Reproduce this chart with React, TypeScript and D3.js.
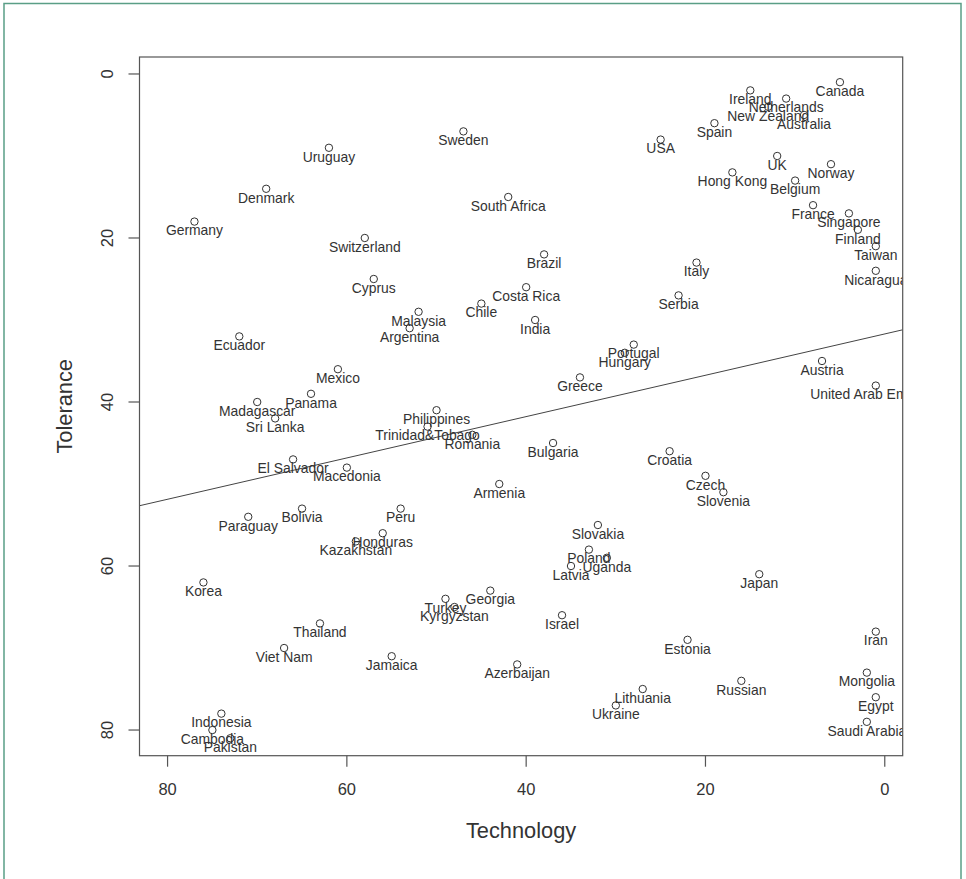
import React, { useEffect, useRef } from 'react';
import * as d3 from 'd3';

const countries = [
  'Canada', 'Ireland', 'Netherlands', 'New Zealand', 'Australia', 'Spain', 'Sweden', 'USA', 'Uruguay', 'UK',
  'Norway', 'Hong Kong', 'Belgium', 'Denmark', 'South Africa', 'France', 'Singapore', 'Germany', 'Finland', 'Switzerland',
  'Taiwan', 'Brazil', 'Italy', 'Nicaragua', 'Cyprus', 'Costa Rica', 'Serbia', 'Chile', 'Malaysia', 'India',
  'Argentina', 'Ecuador', 'Portugal', 'Hungary', 'Austria', 'Mexico', 'Greece', 'United Arab Emirates', 'Panama', 'Madagascar',
  'Philippines', 'Sri Lanka', 'Trinidad&Tobago', 'Romania', 'Bulgaria', 'Croatia', 'El Salvador', 'Macedonia', 'Czech', 'Armenia',
  'Slovenia', 'Bolivia', 'Peru', 'Paraguay', 'Slovakia', 'Honduras', 'Kazakhstan', 'Poland', 'Uganda', 'Latvia',
  'Japan', 'Korea', 'Georgia', 'Turkey', 'Kyrgyzstan', 'Israel', 'Thailand', 'Iran', 'Estonia', 'Viet Nam',
  'Jamaica', 'Azerbaijan', 'Mongolia', 'Russian', 'Lithuania', 'Egypt', 'Ukraine', 'Indonesia', 'Saudi Arabia', 'Cambodia',
  'Pakistan',
];

const technology = [
  5, 15, 11, 13, 9, 19, 47, 25, 62, 12,
  6, 17, 10, 69, 42, 8, 4, 77, 3, 58,
  1, 38, 21, 1, 57, 40, 23, 45, 52, 39,
  53, 72, 28, 29, 7, 61, 34, 1, 64, 70,
  50, 68, 51, 46, 37, 24, 66, 60, 20, 43,
  18, 65, 54, 71, 32, 56, 59, 33, 31, 35,
  14, 76, 44, 49, 48, 36, 63, 1, 22, 67,
  55, 41, 2, 16, 27, 1, 30, 74, 2, 75,
  73,
];

const tolerance = [
  1, 2, 3, 4, 5, 6, 7, 8, 9, 10,
  11, 12, 13, 14, 15, 16, 17, 18, 19, 20,
  21, 22, 23, 24, 25, 26, 27, 28, 29, 30,
  31, 32, 33, 34, 35, 36, 37, 38, 39, 40,
  41, 42, 43, 44, 45, 46, 47, 48, 49, 50,
  51, 53, 53, 54, 55, 56, 57, 58, 59, 60,
  61, 62, 63, 64, 65, 66, 67, 68, 69, 70,
  71, 72, 73, 74, 75, 76, 77, 78, 79, 80,
  81,
];

const xTicks = [80, 60, 40, 20, 0];
const yTicks = [0, 20, 40, 60, 80];

// fitted line: tolerance = intercept + slope * technology
const lineIntercept = 31.7;
const lineSlope = 0.252;

const W = 966;
const H = 879;

const App: React.FC = () => {
  const svgRef = useRef<SVGSVGElement | null>(null);

  useEffect(() => {
    if (!svgRef.current) return;
    const svg = d3.select(svgRef.current);
    svg.selectAll('*').remove();

    const left = 139.5, right = 902.7, top = 57, bottom = 755.7;
    const x = d3.scaleLinear().domain([83.13, -2.0]).range([left, right]);
    const y = d3.scaleLinear().domain([-2.07, 83.13]).range([top, bottom]);

    const font = '"Liberation Sans", Arial, sans-serif';

    svg.append('rect')
      .attr('width', W).attr('height', H).attr('fill', '#fff');

    // outer frame
    svg.append('rect')
      .attr('x', 4).attr('y', 3.5)
      .attr('width', 957).attr('height', 900)
      .attr('fill', 'none')
      .attr('stroke', '#5a9e86')
      .attr('stroke-width', 1.5);

    svg.append('clipPath').attr('id', 'plot-clip')
      .append('rect')
      .attr('x', left).attr('y', top)
      .attr('width', right - left).attr('height', bottom - top);

    const plot = svg.append('g').attr('clip-path', 'url(#plot-clip)');

    // regression line
    const [d0, d1] = x.domain();
    plot.append('line')
      .attr('x1', x(d0)).attr('y1', y(lineIntercept + lineSlope * d0))
      .attr('x2', x(d1)).attr('y2', y(lineIntercept + lineSlope * d1))
      .attr('stroke', '#444')
      .attr('stroke-width', 1);

    const data = countries.map((name, i) => ({ name, tx: technology[i], tl: tolerance[i] }));

    plot.selectAll('circle.pt')
      .data(data)
      .join('circle')
      .attr('class', 'pt')
      .attr('cx', d => x(d.tx))
      .attr('cy', d => y(d.tl))
      .attr('r', 3.7)
      .attr('fill', 'none')
      .attr('stroke', '#333')
      .attr('stroke-width', 1);

    plot.selectAll('text.lbl')
      .data(data)
      .join('text')
      .attr('class', 'lbl')
      .attr('x', d => x(d.tx))
      .attr('y', d => y(d.tl + 1))
      .attr('dy', '0.4em')
      .attr('text-anchor', 'middle')
      .style('font-family', font)
      .style('font-size', '13.9px')
      .style('fill', '#333')
      .text(d => d.name);

    // plot box
    svg.append('rect')
      .attr('x', left).attr('y', top)
      .attr('width', right - left).attr('height', bottom - top)
      .attr('fill', 'none')
      .attr('stroke', '#555')
      .attr('stroke-width', 1.2);

    // x axis
    const xAxis = svg.append('g');
    xAxis.selectAll('line')
      .data(xTicks)
      .join('line')
      .attr('x1', d => x(d)).attr('x2', d => x(d))
      .attr('y1', bottom).attr('y2', bottom + 11)
      .attr('stroke', '#555').attr('stroke-width', 1.2);
    xAxis.selectAll('text')
      .data(xTicks)
      .join('text')
      .attr('x', d => x(d))
      .attr('y', 795)
      .attr('text-anchor', 'middle')
      .style('font-family', font)
      .style('font-size', '16.5px')
      .style('fill', '#333')
      .text(d => d);

    // y axis
    const yAxis = svg.append('g');
    yAxis.selectAll('line')
      .data(yTicks)
      .join('line')
      .attr('x1', left - 11).attr('x2', left)
      .attr('y1', d => y(d)).attr('y2', d => y(d))
      .attr('stroke', '#555').attr('stroke-width', 1.2);
    yAxis.selectAll('text')
      .data(yTicks)
      .join('text')
      .attr('transform', d => `translate(113,${y(d)}) rotate(-90)`)
      .attr('text-anchor', 'middle')
      .style('font-family', font)
      .style('font-size', '16.5px')
      .style('fill', '#333')
      .text(d => d);

    // axis titles
    svg.append('text')
      .attr('x', (left + right) / 2)
      .attr('y', 838)
      .attr('text-anchor', 'middle')
      .style('font-family', font)
      .style('font-size', '21.8px')
      .style('fill', '#333')
      .text('Technology');

    svg.append('text')
      .attr('transform', `translate(72,${(top + bottom) / 2}) rotate(-90)`)
      .attr('text-anchor', 'middle')
      .style('font-family', font)
      .style('font-size', '21.8px')
      .style('fill', '#333')
      .text('Tolerance');

    return () => { svg.selectAll('*').remove(); };
  }, []);

  return (
    <svg
      ref={svgRef}
      width={W}
      height={H}
      style={{ position: 'absolute', left: 0, top: 0 }}
    />
  );
};

export default App;
